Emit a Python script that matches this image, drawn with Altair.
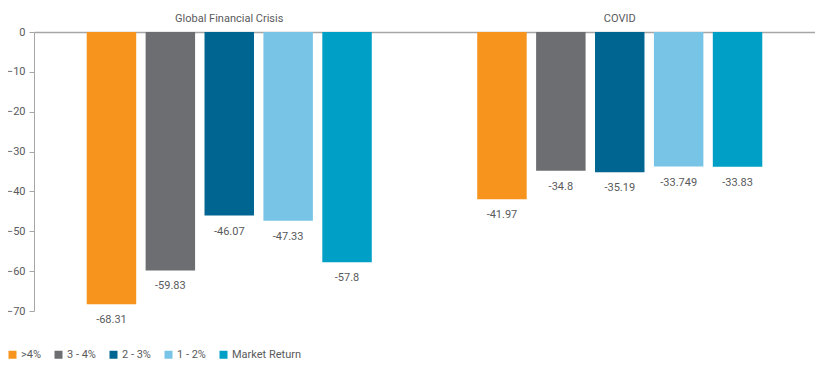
import altair as alt
import pandas as pd

groups = ["Global Financial Crisis", "COVID"]
series = [">4%", "3 - 4%", "2 - 3%", "1 - 2%", "Market Return"]
colors = ["#F7941E", "#6D6E71", "#006691", "#77C4E6", "#00A0C6"]
gfc_values = [-68.31, -59.83, -46.07, -47.33, -57.8]
covid_values = [-41.97, -34.8, -35.19, -33.749, -33.83]
gfc_labels = ["-68.31", "-59.83", "-46.07", "-47.33", "-57.8"]
covid_labels = ["-41.97", "-34.8", "-35.19", "-33.749", "-33.83"]
y_ticks = [0, -10, -20, -30, -40, -50, -60, -70]

rows = []
for g, vals, labs in [(groups[0], gfc_values, gfc_labels), (groups[1], covid_values, covid_labels)]:
    for s, v, l in zip(series, vals, labs):
        rows.append({"group": g, "series": s, "value": v, "label": l})
df = pd.DataFrame(rows)

FONT = "Roboto"
TXT = "#595a5c"

x = alt.X(
    "group:N",
    sort=groups,
    scale=alt.Scale(paddingInner=0.27, paddingOuter=0.135),
    axis=alt.Axis(
        orient="top", title=None, ticks=False, labelAngle=0, labelPadding=9,
        domainColor="#a6a6a6", domainWidth=1.5, labelFont=FONT, labelFontSize=11,
        labelColor=TXT,
    ),
)
xo = alt.XOffset("series:N", sort=series, scale=alt.Scale(paddingInner=0.16, paddingOuter=0))
y = alt.Y(
    "value:Q",
    scale=alt.Scale(domain=[-70, 0], nice=False),
    axis=alt.Axis(
        values=y_ticks, grid=False, title=None, domainColor="#a6a6a6", tickColor="#a6a6a6",
        tickSize=5, labelPadding=4, labelFont=FONT, labelFontSize=11, labelColor=TXT,
    ),
)

bars = alt.Chart(df).mark_bar().encode(
    x=x, xOffset=xo, y=y,
    color=alt.Color(
        "series:N", sort=series,
        scale=alt.Scale(domain=series, range=colors),
        legend=alt.Legend(
            title=None, orient="none", legendX=-27, legendY=317, direction="horizontal",
            columns=5, symbolType="square", symbolSize=64, symbolStrokeWidth=0,
            columnPadding=12, labelOffset=3, labelFont=FONT, labelFontSize=11,
            labelColor=TXT,
        ),
    ),
)

text = alt.Chart(df).mark_text(dy=16, font=FONT, fontSize=11, color=TXT, baseline="middle").encode(
    x=x, xOffset=xo, y=y, text="label:N"
)

chart = (bars + text).properties(
    width=781, height=279,
    autosize=alt.AutoSizeParams(type="none"),
    padding={"left": 26, "top": 24, "right": 0, "bottom": 50},
).configure_view(stroke=None)

chart.save("out.html", embed_options={"renderer": "svg", "actions": False})
